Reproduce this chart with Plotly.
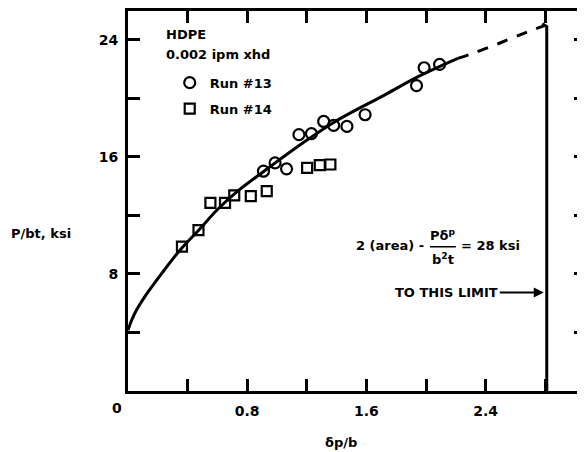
import plotly.graph_objects as go

# --- data ---
run13_x = [0.909, 0.987, 1.064, 1.147, 1.231, 1.313, 1.380, 1.469, 1.591, 1.936, 1.987, 2.091]
run13_y = [15.02, 15.59, 15.18, 17.52, 17.59, 18.42, 18.15, 18.08, 18.88, 20.87, 22.09, 22.32]
run14_x = [0.362, 0.473, 0.553, 0.651, 0.713, 0.824, 0.931, 1.202, 1.287, 1.358]
run14_y = [9.86, 10.99, 12.85, 12.85, 13.37, 13.32, 13.66, 15.25, 15.43, 15.48]

fit_x = [0.0, 0.025, 0.058, 0.113, 0.224, 0.336, 0.480, 0.602, 0.736, 0.913, 1.158, 1.391, 1.724, 1.947, 2.213]
fit_y = [4.15, 4.85, 5.55, 6.45, 8.00, 9.47, 11.06, 12.42, 13.66, 15.02, 16.84, 18.42, 20.24, 21.48, 22.73]
ext_x = [2.213, 2.313, 2.500, 2.680, 2.790]
ext_y = [22.73, 23.07, 23.80, 24.54, 24.95]

limit_x = [2.78, 2.81, 2.81]
limit_y = [25.1, 24.9, 0.0]

x_ticks = [0.4, 0.8, 1.2, 1.6, 2.0, 2.4, 2.8]
x_labels = ["", "0.8", "", "1.6", "", "2.4", ""]
y_ticks = [4, 8, 12, 16, 20, 24]
y_labels = ["", "8", "", "16", "", "24"]

# The page body keeps an 8px margin, so the figure is drawn 8px in from the
# window's top-left corner; work in window pixels and convert.
OFF = 8
RIGHT_FRAME = 589          # right frame sits just outside the window
W, H = RIGHT_FRAME - OFF, 452 - OFF
L, R, T, B = 128 - OFF, 0, 1, 452 - 391
PX_X = 150.0
PX_Y = 14.71
xmax = (W - L - R) / PX_X
ymax = (H - T - B) / PX_Y

def px(xs):
    return (xs - OFF - L) / (W - L - R)

def py(ys):
    return (H - B - (ys - OFF)) / (H - T - B)

FONT = "DejaVu Sans, Liberation Sans, Arial, sans-serif"
bold = dict(family=FONT, size=13, color="black", weight="bold")
tickbold = dict(family=FONT, size=14, color="black", weight="bold")
TW = 2.5

fig = go.Figure()

fig.add_trace(go.Scatter(x=fit_x, y=fit_y, mode="lines",
                         line=dict(color="black", width=3, shape="spline", smoothing=1.0),
                         showlegend=False, hoverinfo="skip"))
fig.add_trace(go.Scatter(x=ext_x, y=ext_y, mode="lines",
                         line=dict(color="black", width=3, dash="11px,10px", shape="spline"),
                         showlegend=False, hoverinfo="skip"))
fig.add_trace(go.Scatter(x=limit_x, y=limit_y, mode="lines", line=dict(color="black", width=3),
                         showlegend=False, hoverinfo="skip"))
fig.add_trace(go.Scatter(x=run13_x, y=run13_y, mode="markers", name="Run #13", legendgroup="a",
                         marker=dict(symbol="circle-open", size=11, color="black",
                                     line=dict(width=2.2, color="black"))))
fig.add_trace(go.Scatter(x=run14_x, y=run14_y, mode="markers", name="Run #14", legendgroup="b",
                         marker=dict(symbol="square-open", size=10, color="black",
                                     line=dict(width=2.2, color="black"))))

common = dict(showgrid=False, zeroline=False, tickcolor="black", tickwidth=TW,
              showline=True, linecolor="black", linewidth=3, mirror="ticks",
              ticks="inside", ticklen=12, tickfont=tickbold)
fig.update_layout(
    width=W, height=H,
    margin=dict(l=L, r=R, t=T, b=B),
    paper_bgcolor="white", plot_bgcolor="white",
    font=bold,
    xaxis=dict(range=[0, xmax], tickvals=x_ticks, ticktext=x_labels, ticklabelstandoff=5, **common),
    yaxis=dict(range=[0, ymax], tickvals=y_ticks, ticktext=y_labels, ticklabelstandoff=4, **common),
    legend=dict(x=px(170), y=py(66), xanchor="left", yanchor="top", bgcolor="rgba(0,0,0,0)",
                font=bold, itemwidth=30, tracegroupgap=6, borderwidth=0),
    showlegend=True,
)

ann = []
def note(text, x, y, xanchor="center", font=bold):
    ann.append(dict(text=text, x=px(x), y=py(y), xref="paper", yref="paper", xanchor=xanchor,
                    yanchor="middle", showarrow=False, font=font))

note("HDPE", 164, 33, "left")
note("0.002 ipm xhd", 164, 53, "left")
note("0", 117, 408, font=tickbold)
note("P/bt, ksi", 8, 233, "left")
note("δp/b", 342, 443)
note("2 (area) -", 428, 245, "right")
note("Pδ<sup>p</sup>", 445, 234)
note("b<sup>2</sup>t", 445, 258)
note("= 28 ksi", 461, 245, "left")
ann.append(dict(text="TO THIS LIMIT", x=limit_x[1] - 0.02, y=(391 - 292) / PX_Y, xref="x", yref="y",
                ax=-97, ay=0, axref="pixel", ayref="pixel", showarrow=True, arrowhead=2, arrowsize=1,
                arrowwidth=2, arrowcolor="black", font=bold))
fig.update_layout(annotations=ann)
fig.add_shape(type="line", xref="paper", yref="paper", x0=px(432), x1=px(458), y0=py(246), y1=py(246),
              line=dict(color="black", width=1.5))

fig.write_html("out.html")
